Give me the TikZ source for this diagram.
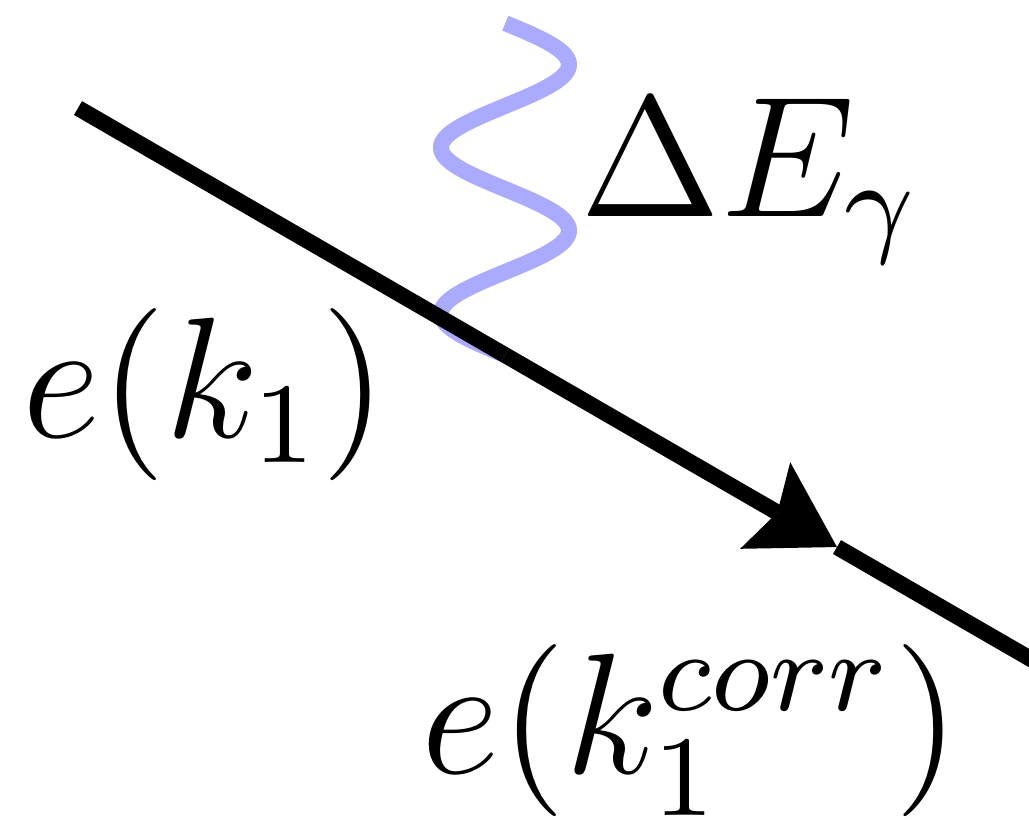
\documentclass[tikz,border=0pt]{standalone}
\usetikzlibrary{arrows.meta}
\definecolor{photonblue}{RGB}{170,170,255}
\begin{document}
\begin{tikzpicture}[x=0.0698pt,y=-0.0698pt,
  fermion/.style={line width=1.117pt, black},
  photon/.style={line width=1.117pt, photonblue},
  lab/.style={anchor=base west, inner sep=0pt, outer sep=0pt, font=\large}]
  \useasboundingbox (0,0) rectangle (1029,819);
  \clip (0,0) rectangle (1029,819);
  \coordinate (a) at (78,108);
  \coordinate (v) at (505,355);
  \coordinate (tip) at (837,547);
  \coordinate (b) at (1100,699);
  \coordinate (ptop) at (505,23);
  % photon
  \draw[photon] plot[domain=0:1, samples=160, smooth] ({505-64*sin(720*\x)}, {355-332*\x});
  % electron line
  \draw[fermion] (a) -- (v);
  \draw[fermion, -{Stealth[length=5.79pt, width=6.98pt, inset=0.98pt, line width=0pt]}] (v) -- (tip);
  \draw[fermion] (tip) -- (b);
  % labels
  \node[lab] (l1) at (22,437) {$e(k_1)$};
  \node[lab] (l2) at (580,216) {$\Delta E_\gamma$};
  \node[lab] (l3) at (422,773) {$e(k_1^{corr})$};
\end{tikzpicture}
\end{document}
